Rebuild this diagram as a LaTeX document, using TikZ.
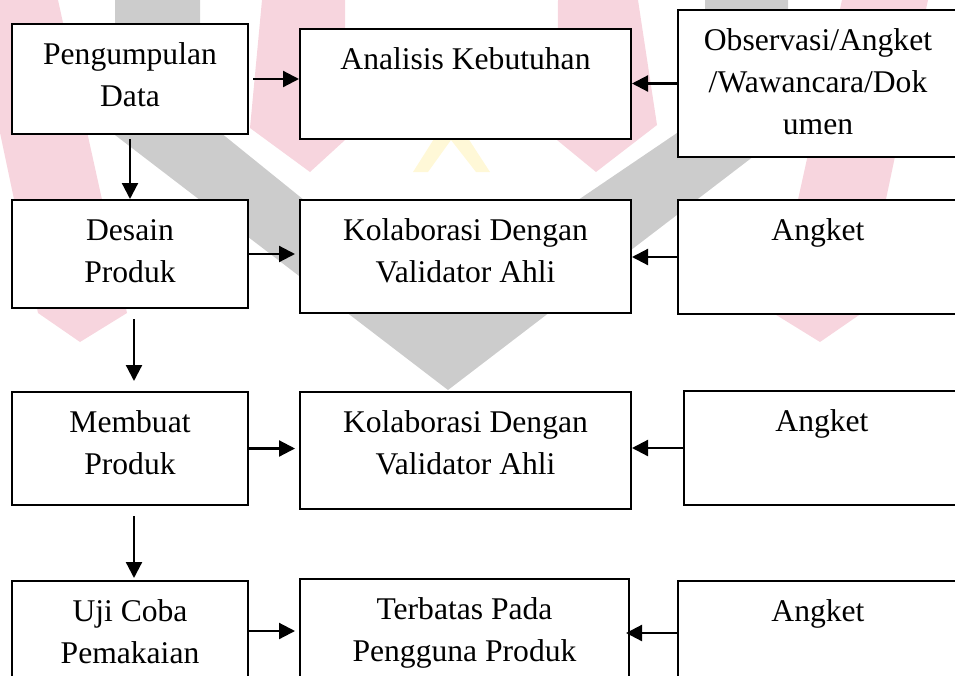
\documentclass[tikz,border=0pt]{standalone}
\usepackage{fontspec}
\setmainfont{Liberation Serif}
\usetikzlibrary{arrows.meta}

\definecolor{wmpink}{RGB}{247,213,222}
\definecolor{wmgray}{RGB}{204,204,204}
\definecolor{wmyellow}{RGB}{255,248,215}

\newcommand{\stagetext}[3]{\parbox[c][#2][t]{#1}{\centering\rule{0pt}{40pt}#3}}

\begin{document}
\begin{tikzpicture}[
  x=1pt, y=-1pt,
  font=\fontsize{31.6pt}{42pt}\selectfont,
  stage/.style={draw=black, rectangle, fill=white, line width=2pt, inner sep=0pt},
  arrow/.style={-{Triangle[length=16pt, width=16pt]}, line width=2.2pt},
]
  \useasboundingbox (0,0) rectangle (955,675);
  \clip (0,0) rectangle (955,675);

  % faint logo behind the chart
  \fill[wmpink] (-28,0) -- (58,0) -- (127,313) -- (80,342) -- (38,313) -- cycle;
  \fill[wmpink] (842,0) -- (928,0) -- (862,313) -- (820,342) -- (773,313) -- cycle;
  \fill[wmpink] (262,0) -- (345,0) -- (345,140) -- (310,172) -- (250,128) -- cycle;
  \fill[wmpink] (558,0) -- (638,0) -- (657,125) -- (596,172) -- (557,140) -- cycle;
  \fill[wmgray] (115,0) -- (200,0) -- (200,116) -- (429,301) -- (705,114) -- (705,0)
    -- (788,0) -- (788,130) -- (448,390) -- (115,135) -- cycle;
  \fill[wmyellow] (413,172) -- (451,112) -- (490,172) -- (476,172) -- (451,140)
    -- (428,172) -- cycle;

  \node[stage] (pd) at (130,79) {\stagetext{236pt}{110pt}{Pengumpulan\\Data}};
  \node[stage] (ak) at (465.5,84) {\stagetext{331pt}{110pt}{Analisis Kebutuhan}};
  \node[stage] (obs) at (818,83.5) {\stagetext{280pt}{147pt}{Observasi/Angket\\/Wawancara/Dok\\umen}};

  \node[stage] (dp) at (130,254) {\stagetext{236pt}{108pt}{Desain\\Produk}};
  \node[stage] (kol1) at (465.5,256.5) {\stagetext{331pt}{113pt}{Kolaborasi Dengan\\Validator Ahli}};
  \node[stage] (ang1) at (818,257) {\stagetext{280pt}{114pt}{Angket}};

  \node[stage] (mp) at (130,448.5) {\stagetext{236pt}{113pt}{Membuat\\Produk}};
  \node[stage] (kol2) at (465.5,450.5) {\stagetext{331pt}{117pt}{Kolaborasi Dengan\\Validator Ahli}};
  \node[stage] (ang2) at (822,448) {\stagetext{276pt}{114pt}{Angket}};

  \node[stage] (uji) at (130,636) {\stagetext{236pt}{110pt}{Uji Coba\\Pemakaian}};
  \node[stage] (ter) at (464.5,634) {\stagetext{329pt}{110pt}{Terbatas Pada\\Pengguna Produk}};
  \node[stage] (ang3) at (818,636) {\stagetext{280pt}{110pt}{Angket}};

  \draw[arrow, shorten <=4pt] (pd.east) -- (pd.east -| ak.west);
  \draw[arrow] (obs.west) -- (obs.west -| ak.east);
  \draw[arrow, shorten >=4pt] (dp.east) -- (dp.east -| kol1.west);
  \draw[arrow] (ang1.west) -- (ang1.west -| kol1.east);
  \draw[arrow, shorten >=4pt] (mp.east) -- (mp.east -| kol2.west);
  \draw[arrow] (ang2.west) -- (ang2.west -| kol2.east);
  \draw[arrow, shorten >=4pt] ([yshift=5pt]uji.east) -- ([yshift=5pt]uji.east -| ter.west);
  \draw[arrow, shorten >=-4pt] ([yshift=3pt]ang3.west) -- ([yshift=3pt]ang3.west -| ter.east);

  \draw[arrow, shorten <=4pt] (pd.south) -- (dp.north);
  \draw[arrow, shorten <=10pt, shorten >=10pt] ([xshift=4pt]dp.south) -- ([xshift=4pt]mp.north);
  \draw[arrow, shorten <=10pt, shorten >=2pt] ([xshift=4pt]mp.south) -- ([xshift=4pt]uji.north);
\end{tikzpicture}
\end{document}
